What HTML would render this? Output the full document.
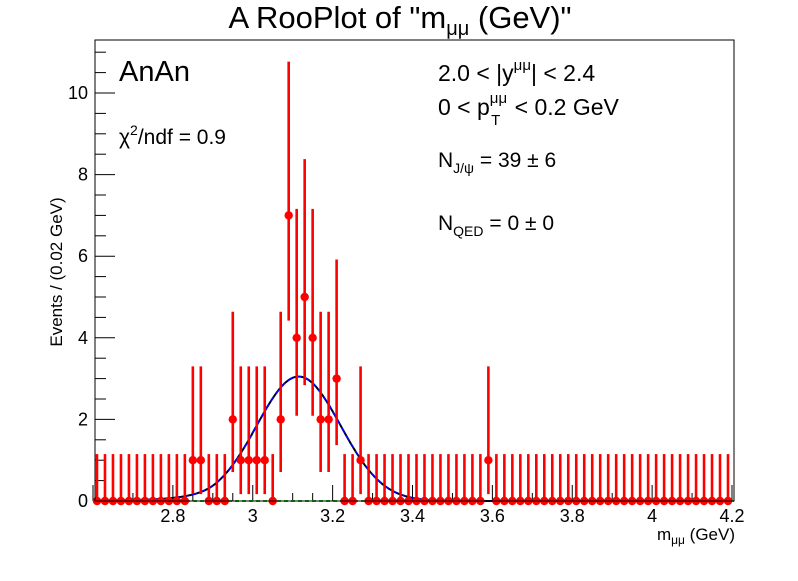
<!DOCTYPE html>
<html><head><meta charset="utf-8"><style>
body{margin:0;background:#fff}
svg text{font-family:"Liberation Sans",sans-serif;}
</style></head><body>
<svg width="798" height="576" viewBox="0 0 798 576" xmlns="http://www.w3.org/2000/svg">
<rect width="798" height="576" fill="#fff"/>
<text x="400" y="28" font-size="31" text-anchor="middle">A RooPlot of "m<tspan font-size="20" dy="7">μμ</tspan><tspan dy="-7"> (GeV)"</tspan></text>
<g id="plot"></g>
<rect x="95" y="40" width="639" height="461" fill="none" stroke="#000" stroke-width="1"/>
<text transform="translate(62,272) rotate(-90)" font-size="17" text-anchor="middle">Events / (0.02 GeV)</text>
<text x="735" y="540" font-size="17" text-anchor="end">m<tspan font-size="12" dy="4">μμ</tspan><tspan dy="-4"> (GeV)</tspan></text>
<text x="119" y="81" font-size="29">AnAn</text>
<text x="119" y="144" font-size="21">χ<tspan font-size="14" dy="-9">2</tspan><tspan dy="9">/ndf = 0.9</tspan></text>
<text x="438" y="81" font-size="23">2.0 &lt; |y<tspan font-size="15" dy="-11">μμ</tspan><tspan dy="11">| &lt; 2.4</tspan></text>
<text x="438" y="115" font-size="23">0 &lt; p<tspan font-size="15" dy="-12">μμ</tspan><tspan font-size="15" dx="-16" dy="22">T</tspan><tspan dx="8" dy="-10"> &lt; 0.2 GeV</tspan></text>
<text x="438" y="167" font-size="21">N<tspan font-size="14" dy="6">J/ψ</tspan><tspan dy="-6"> = 39 ± 6</tspan></text>
<text x="438" y="230" font-size="21">N<tspan font-size="14" dy="6">QED</tspan><tspan dy="-6"> = 0 ± 0</tspan></text>
</svg>
<script>
const binLo = 2.6, binW = 0.02;
const counts = [0,0,0,0,0,0,0,0,0,0,0,0,1,1,0,0,0,2,1,1,1,1,0,2,7,4,5,4,2,2,3,0,0,1,0,0,0,0,0,0,0,0,0,0,0,0,0,0,0,1,0,0,0,0,0,0,0,0,0,0,0,0,0,0,0,0,0,0,0,0,0,0,0,0,0,0,0,0,0,0];
const errLo = [0,0.17,0.71,1.37,2.09,2.84,3.62,4.42];
const errHi = [1.15,3.3,4.64,5.92,7.16,8.38,9.58,10.77];
const xTicks = [2.8,3,3.2,3.4,3.6,3.8,4,4.2];
const yTicks = [0,2,4,6,8,10];
const fitParams = [3.05, 3.115, 0.105, 2.0, 5]; // peak, mean, sigma, alpha, n
const NS="http://www.w3.org/2000/svg";
const X = v => 95 + (v-2.6)/(4.2-2.6)*639 - 2;
const Y = v => 501 - v*40.8;
const g = document.getElementById('plot');
function mk(tag, attrs){const e=document.createElementNS(NS,tag);for(const k in attrs)e.setAttribute(k,attrs[k]);g.appendChild(e);return e;}
for(let v=0; v<=11; v+=0.5){
  const major = Math.abs(v%2)<1e-9;
  const t=mk('line',{x1:95,x2:major?115:106,y1:Y(v),y2:Y(v),stroke:'#000'});
  
  
}
yTicks.forEach(v=>{const t=mk('text',{x:88,y:Y(v)+6,'font-size':18,'text-anchor':'end'});t.textContent=v;

});
for(let i=0;i<=32;i++){const v=2.6+i*0.05;const major=i%4==0;
  const t=mk('line',{x1:X(v),x2:X(v),y1:501,y2:major?485:493,stroke:'#000'});
  
  }
xTicks.forEach(v=>{const t=mk('text',{x:X(v),y:522,'font-size':18,'text-anchor':'middle'});t.textContent=v;

});
const q=mk('line',{x1:95,x2:734,y1:Y(0),y2:Y(0),stroke:'#1c1','stroke-width':2,'stroke-dasharray':'4,3'});


function cb(x){const [A,m,s,a,n]=fitParams;const t=(x-m)/s;
  if(t>-a) return A*Math.exp(-t*t/2);
  const Av=Math.pow(n/a,n)*Math.exp(-a*a/2),B=n/a-a;return A*Av*Math.pow(B-t,-n);}
let d='';for(let i=0;i<=640;i++){const v=2.6+i*1.6/640;d+=(i?'L':'M')+X(v).toFixed(1)+','+Y(cb(v)).toFixed(1);}
const c1=mk('path',{d:d,fill:'none',stroke:'#000','stroke-width':2});


const c2=mk('path',{d:d,fill:'none',stroke:'#00f','stroke-width':1.5,'stroke-dasharray':'6,3'});


counts.forEach((n,i)=>{const xc=X(binLo+binW*(i+0.5));
  const e=mk('line',{x1:xc,x2:xc,y1:Y(errLo[n]),y2:Y(errHi[n]),stroke:'#f00','stroke-width':2.6});
  
  
  const p=mk('circle',{cx:xc,cy:Y(n),r:4.2,fill:'#f00'});
  
  
});
</script>
</body></html>
